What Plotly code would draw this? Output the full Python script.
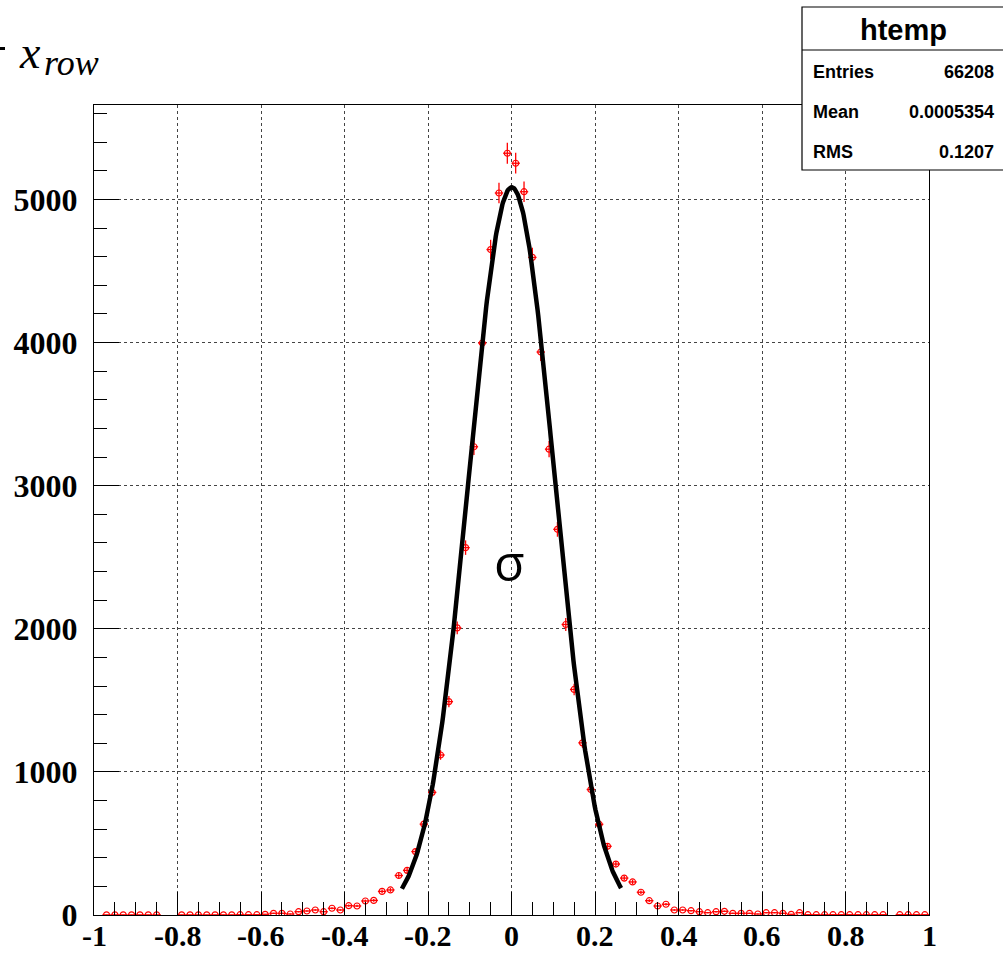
import numpy as np
import plotly.graph_objects as go

# ---- data (histogram "htemp", 100 bins on [-1, 1]) ----
bin_centers = [
    -0.97, -0.95, -0.93, -0.91, -0.89, -0.87, -0.85,
    -0.79, -0.77, -0.75, -0.73, -0.71, -0.69, -0.67, -0.65, -0.63, -0.61,
    -0.59, -0.57, -0.55, -0.53, -0.51, -0.49, -0.47, -0.45, -0.43, -0.41,
    -0.39, -0.37, -0.35, -0.33, -0.31, -0.29, -0.27, -0.25, -0.23, -0.21,
    -0.19, -0.17, -0.15, -0.13, -0.11, -0.09, -0.07, -0.05, -0.03, -0.01,
    0.01, 0.03, 0.05, 0.07, 0.09, 0.11, 0.13, 0.15, 0.17, 0.19,
    0.21, 0.23, 0.25, 0.27, 0.29, 0.31, 0.33, 0.35, 0.37, 0.39,
    0.41, 0.43, 0.45, 0.47, 0.49, 0.51, 0.53, 0.55, 0.57, 0.59,
    0.61, 0.63, 0.65, 0.67, 0.69, 0.71, 0.73, 0.75, 0.77, 0.79,
    0.81, 0.83, 0.85, 0.87, 0.89, 0.93, 0.95, 0.97, 0.99,
]
bin_counts = [
    1, 1, 1, 1, 1, 1, 1,
    1, 1, 1, 1, 1, 1, 1, 2, 2, 2,
    5, 12, 12, 7, 23, 28, 35, 23, 47, 35,
    65, 63, 98, 102, 165, 175, 276, 312, 443, 635,
    857, 1118, 1491, 2006, 2567, 3272, 3997, 4650, 5045, 5323,
    5253, 5054, 4595, 3934, 3255, 2695, 2030, 1576, 1203, 877,
    634, 480, 356, 258, 231, 159, 100, 63, 75, 35,
    35, 30, 23, 16, 23, 26, 12, 12, 12, 7,
    16, 16, 12, 5, 16, 2, 2, 2, 2, 2,
    2, 2, 2, 2, 2, 2, 2, 2, 2,
]
bin_half_width = 0.01

# Gaussian fit parameters (fit range)
fit_const = 5085.0
fit_mean = 0.0005
fit_sigma = 0.102
fit_range = (-0.2625, 0.2625)

stats_title = "htemp"
stats_rows = [("Entries", "66208"), ("Mean", "0.0005354"), ("RMS", "0.1207")]

x_tickvals = [-1, -0.8, -0.6, -0.4, -0.2, 0, 0.2, 0.4, 0.6, 0.8, 1]
x_ticktext = ["-1", "-0.8", "-0.6", "-0.4", "-0.2", "0", "0.2", "0.4", "0.6", "0.8", "1"]
y_tickvals = [0, 1000, 2000, 3000, 4000, 5000]
y_ticktext = ["0", "1000", "2000", "3000", "4000", "5000"]

# ---- layout geometry (pixels) ----
W, H = 1003, 954
L, R, T, B = 94, 74, 105, 39
PW, PH = W - L - R, H - T - B


def px(xp):
    return (xp - L) / PW


def py(yp):
    return (H - B - yp) / PH


fig = go.Figure()

fit_x = np.linspace(fit_range[0], fit_range[1], 300)
fit_y = fit_const * np.exp(-0.5 * ((fit_x - fit_mean) / fit_sigma) ** 2)

fig.add_trace(go.Scatter(
    x=bin_centers, y=bin_counts, mode="markers",
    marker=dict(symbol="circle-open", size=6, color="#ff0000", line=dict(width=1.2, color="#ff0000")),
    error_y=dict(type="data", array=list(np.sqrt(bin_counts)), color="#ff0000", thickness=1.3, width=0),
    error_x=dict(type="data", array=[bin_half_width] * len(bin_centers), color="#ff0000", thickness=1.3, width=0),
    showlegend=False, hoverinfo="skip",
))
fig.add_trace(go.Scatter(
    x=fit_x, y=fit_y, mode="lines",
    line=dict(color="black", width=4.5),
    showlegend=False, hoverinfo="skip",
))

tickfont = dict(family="Liberation Serif", size=32, color="black", weight="bold")
xtickfont = dict(family="Liberation Serif", size=30, color="black", weight="bold")

fig.update_xaxes(
    range=[-1, 1], showline=True, mirror=True, linecolor="black", linewidth=1,
    ticks="inside", ticklen=23, tickcolor="black", tickwidth=1,
    tickvals=x_tickvals, showticklabels=False,
    showgrid=True, gridcolor="#444", griddash="dot", gridwidth=1, zeroline=False,
    minor=dict(dtick=0.05, tick0=0, ticks="inside", ticklen=13, tickcolor="black", tickwidth=1, showgrid=False),
    automargin=False,
)
fig.update_yaxes(
    range=[0, 5660], showline=True, mirror=True, linecolor="black", linewidth=1,
    ticks="inside", ticklen=25, tickcolor="black", tickwidth=1,
    tickvals=y_tickvals, ticktext=y_ticktext, tickfont=tickfont,
    showgrid=True, gridcolor="#444", griddash="dot", gridwidth=1, zeroline=False,
    minor=dict(dtick=200, tick0=0, ticks="inside", ticklen=13, tickcolor="black", tickwidth=1, showgrid=False),
    automargin=False, ticklabelstandoff=9,
)

shapes = [
    dict(type="rect", xref="paper", yref="paper",
         x0=px(802), x1=px(1010), y0=py(170), y1=py(7),
         fillcolor="white", line=dict(color="black", width=1.2), layer="above"),
    dict(type="line", xref="paper", yref="paper",
         x0=px(802), x1=px(1010), y0=py(50), y1=py(50),
         line=dict(color="black", width=1.2), layer="above"),
    # fragment of a cropped glyph at the very left edge
    dict(type="line", xref="paper", yref="paper",
         x0=px(-2), x1=px(5), y0=py(48.5), y1=py(48.5),
         line=dict(color="black", width=3), layer="above"),
]

annotations = []
# x-axis tick labels (placed as text on the x data axis)
for tv, tt in zip(x_tickvals, x_ticktext):
    annotations.append(dict(xref="x", yref="paper", x=tv, y=py(935), text=tt, showarrow=False,
                            font=xtickfont, xanchor="center", yanchor="middle", borderpad=0))

annotations.append(dict(xref="paper", yref="paper", x=px(903), y=py(30), text=stats_title, showarrow=False,
                        font=dict(family="Liberation Sans", size=29, color="black", weight="bold"),
                        xanchor="center", yanchor="middle"))
row_y = [72, 112, 152]
for (lab, val), yy in zip(stats_rows, row_y):
    annotations.append(dict(xref="paper", yref="paper", x=px(811), y=py(yy), text=lab, showarrow=False,
                            font=dict(family="Liberation Sans", size=18, color="black", weight="bold"),
                            xanchor="left", yanchor="middle"))
    annotations.append(dict(xref="paper", yref="paper", x=px(996), y=py(yy), text=val, showarrow=False,
                            font=dict(family="Liberation Sans", size=18, color="black", weight="bold"),
                            xanchor="right", yanchor="middle"))

annotations.append(dict(xref="paper", yref="paper", x=px(509), y=py(562), text="σ", showarrow=False,
                        font=dict(family="Open Sans", size=50, color="black"),
                        xanchor="center", yanchor="middle"))
annotations.append(dict(xref="paper", yref="paper", x=px(17), y=py(52),
                        text="<i>x</i>", showarrow=False,
                        font=dict(family="Liberation Serif", size=46, color="black"),
                        xanchor="left", yanchor="middle"))
annotations.append(dict(xref="paper", yref="paper", x=px(42), y=py(63),
                        text="<i>row</i>", showarrow=False,
                        font=dict(family="Liberation Serif", size=36, color="black"),
                        xanchor="left", yanchor="middle"))

fig.update_layout(
    width=W, height=H, autosize=False,
    margin=dict(l=L, r=R, t=T, b=B, pad=0),
    paper_bgcolor="white", plot_bgcolor="white",
    shapes=shapes, annotations=annotations,
)

fig.write_html("out.html", config={"displayModeBar": False},
               post_script="document.body.style.margin='0px';document.body.style.overflow='hidden';")
